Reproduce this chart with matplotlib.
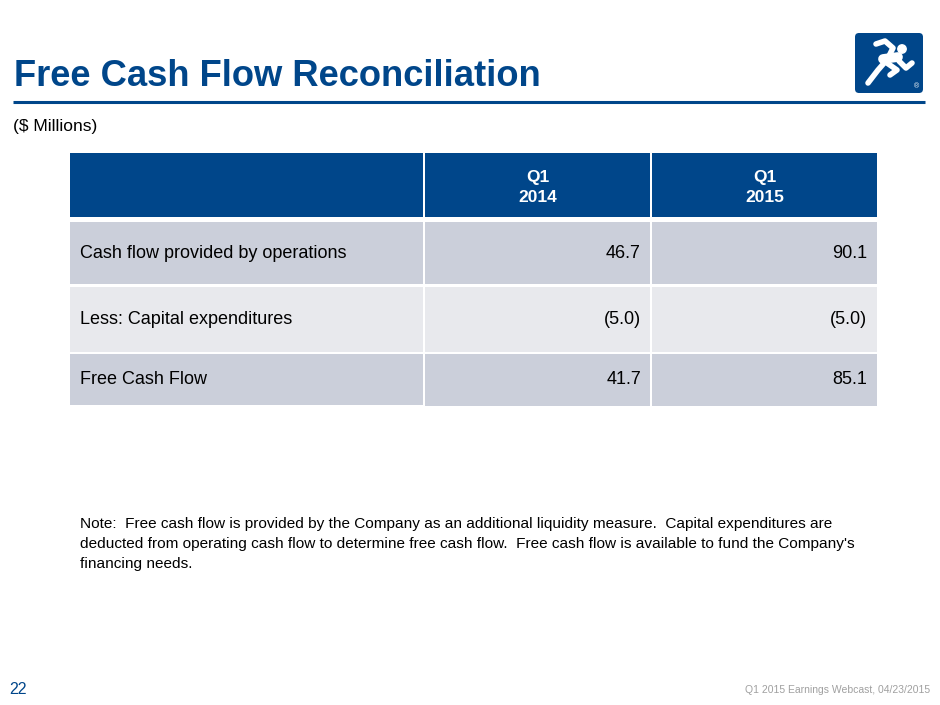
import matplotlib
matplotlib.use("Agg")
import matplotlib.pyplot as plt
from matplotlib.patches import Rectangle, FancyBboxPatch

plt.rcParams['font.family'] = ['Liberation Sans', 'DejaVu Sans']

# ---- data ----
title = "Free Cash Flow Reconciliation"
subtitle = "($ Millions)"
col_headers = ["Q1\n2014", "Q1\n2015"]
row_labels = ["Cash flow provided by operations", "Less: Capital expenditures", "Free Cash Flow"]
q1_2014 = ["46.7", "(5.0)", "41.7"]
q1_2015 = ["90.1", "(5.0)", "85.1"]
note = ("Note:  Free cash flow is provided by the Company as an additional liquidity measure.  Capital expenditures are\n"
        "deducted from operating cash flow to determine free cash flow.  Free cash flow is available to fund the Company's\n"
        "financing needs.")
page_num = "22"
footer = "Q1 2015 Earnings Webcast, 04/23/2015"

NAVY = "#00468A"
DARK_ROW = "#CBCFDA"
LIGHT_ROW = "#E8E9ED"

fig = plt.figure(figsize=(9.4, 7.05), dpi=100)
ax = fig.add_axes([0, 0, 1, 1])
ax.set_xlim(0, 940)
ax.set_ylim(705, 0)
ax.axis('off')

# title and rule
ax.text(13.5, 86, title, color=NAVY, fontsize=26.2, fontweight='bold', va='baseline', ha='left')
ax.plot([13, 925], [101.5, 101.5], color=NAVY, lw=2.2, solid_capstyle='butt')
ax.text(13, 126, subtitle, color='black', fontsize=12.5, va='center', ha='left')

# logo
logo = FancyBboxPatch((855, 33), 68, 60, boxstyle="round,pad=0,rounding_size=4",
                      facecolor=NAVY, edgecolor='none')
ax.add_patch(logo)
wkw = dict(color='white', lw=4, solid_capstyle='round', solid_joinstyle='round')
ax.plot([876, 885, 893, 889], [44, 41, 48, 56], **wkw)          # arm up
ax.plot([883, 898], [59, 57], color='white', lw=7, solid_capstyle='round')  # torso
ax.plot([885, 878, 868], [62, 70, 83], **wkw)                    # back leg
ax.plot([887, 897, 890], [63, 70, 75], **wkw)                    # front leg
ax.plot([899, 906, 912], [61, 68, 63], **wkw)                    # front arm
ax.add_patch(plt.Circle((902, 49), 4.2, color='white'))          # head
ax.text(917, 87, "®", color='white', fontsize=5, ha='center', va='center')

# table geometry (pixels)
col_x = [(70, 423), (425, 650), (652, 877)]
hdr_y = (153, 217)
row_y = [(222, 284), (287, 352), (354, 406)]
row_colors = [DARK_ROW, LIGHT_ROW, DARK_ROW]

# header
for (x0, x1) in col_x:
    ax.add_patch(Rectangle((x0, hdr_y[0]), x1 - x0, hdr_y[1] - hdr_y[0], facecolor=NAVY, edgecolor='none'))
for (x0, x1), h in zip(col_x[1:], col_headers):
    ax.text((x0 + x1) / 2, 187.5, h, color='white', fontsize=12.5,
            fontweight='bold', ha='center', va='center', linespacing=1.45)

# rows
for i, (lab, a, b) in enumerate(zip(row_labels, q1_2014, q1_2015)):
    y0, y1 = row_y[i]
    for j, (x0, x1) in enumerate(col_x):
        yy1 = y1 - 1 if (i == 2 and j == 0) else y1
        ax.add_patch(Rectangle((x0, y0), x1 - x0, yy1 - y0, facecolor=row_colors[i], edgecolor='none'))
    yc = (y0 + y1) / 2
    if i == 2:
        yc = 380
    ax.text(80, yc, lab, color='black', fontsize=13, ha='left', va='center')
    ax.text(col_x[1][1] - 9, yc, a, color='black', fontsize=13, ha='right', va='center')
    ax.text(col_x[2][1] - 10, yc, b, color='black', fontsize=13, ha='right', va='center')

# note
ax.text(80, 544, note, color='black', fontsize=11.1, ha='left', va='center', linespacing=1.57)

# footer
ax.text(9, 690, page_num, color=NAVY, fontsize=11.5, ha='left', va='center')
ax.text(930, 690, footer, color='#A0A0A0', fontsize=7.5, ha='right', va='center')

fig.savefig("out.png", dpi=100)
